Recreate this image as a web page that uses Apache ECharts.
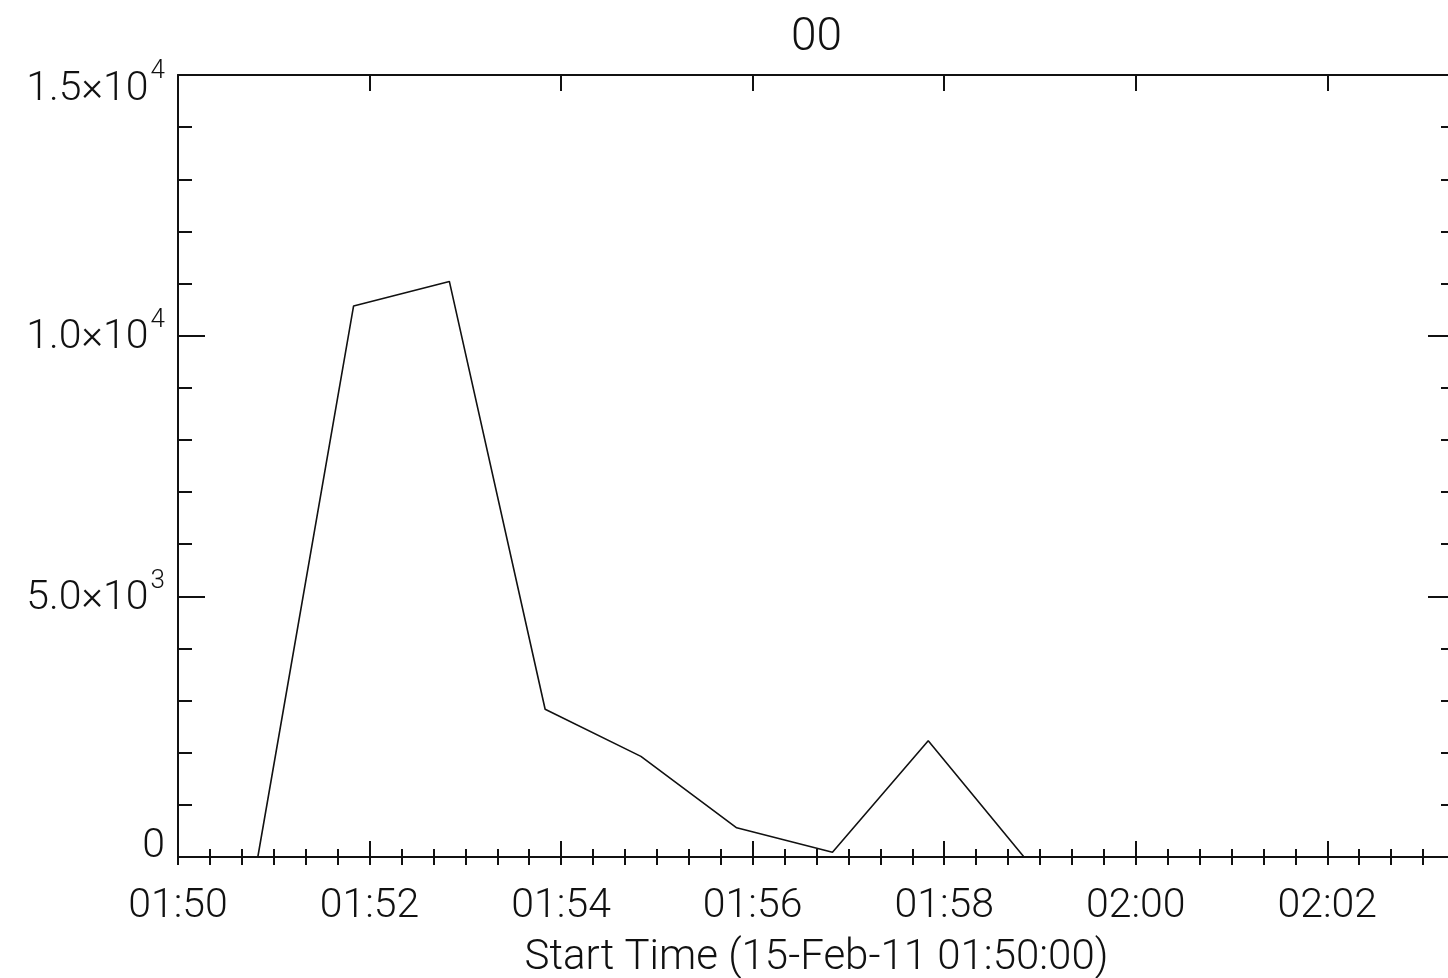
<!DOCTYPE html>
<html>
<head>
<meta charset="utf-8">
<script src="https://cdn.jsdelivr.net/npm/echarts@6/dist/echarts.min.js"></script>
<style>
  html, body { margin: 0; padding: 0; background: #fff; overflow: hidden; }
  #chart { width: 1448px; height: 978px; }
</style>
</head>
<body>
<div id="chart"></div>
<script>
// Counts per one-minute bin, time in seconds after 15-Feb-11 01:50:00
const timeSeconds = [50, 110, 170, 230, 290, 350, 410, 470, 530];
const counts = [0, 10570, 11040, 2835, 1930, 560, 90, 2230, 0];

// Axis tick labels
const baseHour = 1, baseMinute = 50;
const yTickValues = [0, 5000, 10000, 15000];
const yTickMantissa = ['0', '5.0\u00d710', '1.0\u00d710', '1.5\u00d710'];
const yTickExponent = ['', '3', '4', '4'];
const titleText = '00';
const xAxisTitle = 'Start Time (15-Feb-11 01:50:00)';

const FONT = 'Roboto';
const INK = '#111';
const X_MAX = 800;

function fmtTime(sec) {
  const total = baseHour * 60 + baseMinute + Math.round(sec / 60);
  const h = Math.floor(total / 60) % 24, m = total % 60;
  return String(h).padStart(2, '0') + ':' + String(m).padStart(2, '0');
}

function fmtY(v) {
  const i = yTickValues.indexOf(v);
  if (i < 0) return '';
  const tag = i === 0 ? 'b' : (i === yTickValues.length - 1 ? 't' : 'm');
  let s = '{' + tag + '|' + yTickMantissa[i] + '}';
  if (yTickExponent[i]) s += '{' + tag + 's|' + yTickExponent[i] + '}';
  return s;
}

const labelBase = { fontFamily: FONT, fontWeight: 300, fontSize: 41, color: INK };
const supBase = { fontFamily: FONT, fontWeight: 300, fontSize: 26, color: INK };

const axisLineStyle = { color: INK, width: 2 };

function majorX(pos, showLabels) {
  return {
    type: 'value', position: pos, min: 0, max: X_MAX, interval: 120,
    axisLine: { show: true, onZero: false, lineStyle: axisLineStyle },
    axisTick: { show: true, inside: true, length: 16, lineStyle: { color: INK, width: 2 } },
    axisLabel: {
      show: showLabels, margin: 29, showMaxLabel: false,
      formatter: fmtTime, ...labelBase
    },
    splitLine: { show: false },
    name: showLabels ? xAxisTitle : '',
    nameLocation: 'middle', nameGap: 80,
    nameTextStyle: { ...labelBase, fontSize: 42 }
  };
}
function minorX(pos) {
  return {
    type: 'value', position: pos, min: 0, max: X_MAX, interval: 20,
    axisLine: { show: false },
    axisTick: { show: true, inside: true, length: 8, lineStyle: { color: INK, width: 2 } },
    axisLabel: { show: false },
    splitLine: { show: false }
  };
}
function yAxisDef(pos, showLabels) {
  return {
    type: 'value', position: pos, min: 0, max: 15000, interval: 5000,
    axisLine: { show: true, onZero: false, lineStyle: axisLineStyle },
    axisTick: { show: true, inside: true, length: 27, lineStyle: { color: INK, width: 2 } },
    minorTick: { show: true, splitNumber: 5, length: 14, lineStyle: { color: INK, width: 2 } },
    minorSplitLine: { show: false },
    splitLine: { show: false },
    axisLabel: {
      show: showLabels, margin: 13, formatter: fmtY, ...labelBase,
      rich: {
        m: { ...labelBase, padding: [4, 0, 0, 0] },
        ms: { ...supBase, padding: [0, 0, 30, 2] },
        t: { ...labelBase, padding: [30, 0, 0, 0] },
        ts: { ...supBase, padding: [0, 0, 8, 2] },
        b: { ...labelBase, padding: [0, 0, 20, 0] }
      }
    }
  };
}

const chart = echarts.init(document.getElementById('chart'), null, { renderer: 'canvas' });
chart.setOption({
  backgroundColor: '#fff',
  animation: false,
  title: {
    text: titleText, left: 786, top: 10,
    textStyle: { ...labelBase, fontSize: 46 }
  },
  // plot frame runs slightly past the right edge of the canvas
  grid: {
    left: 178, top: 75, width: 1277, height: 782,
    containLabel: false, outerBoundsMode: 'none'
  },
  xAxis: [majorX('bottom', true), minorX('bottom'), majorX('top', false), minorX('top')],
  yAxis: [yAxisDef('left', true), yAxisDef('right', false)],
  series: [{
    type: 'line',
    xAxisIndex: 0, yAxisIndex: 0,
    data: timeSeconds.map((t, i) => [t, counts[i]]),
    showSymbol: false,
    lineStyle: { color: INK, width: 1.6 },
    z: 3
  }]
});
</script>
</body>
</html>
